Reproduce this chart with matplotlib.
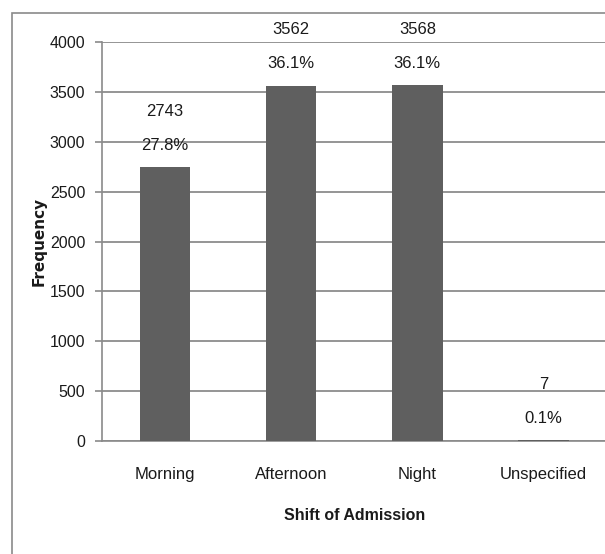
import matplotlib
matplotlib.use('Agg')
import matplotlib.pyplot as plt
from matplotlib.patches import Rectangle

plt.rcParams['font.family'] = ['Liberation Sans', 'DejaVu Sans']

shifts = ['Morning', 'Afternoon', 'Night', 'Unspecified']
counts = [2743, 3562, 3568, 7]
percents = ['27.8%', '36.1%', '36.1%', '0.1%']
y_ticks = [0, 500, 1000, 1500, 2000, 2500, 3000, 3500, 4000]

W, H = 605, 554
fig = plt.figure(figsize=(W / 100, H / 100), dpi=100)

# outer chart frame, runs off the right and bottom edges
fig.patches.append(Rectangle((12 / W, -0.1), 1.2, 1.1 - 13 / H,
                             transform=fig.transFigure, fill=False,
                             edgecolor='#8a8a8a', linewidth=1.2))

ax = fig.add_axes([102 / W, 113 / H, 504.5 / W, 399 / H])
ax.set_facecolor('none')
x = range(len(shifts))
ax.bar(x, counts, width=0.4, color='#5f5f5f', zorder=3)

ax.set_xlim(-0.5, 3.5)
ax.set_ylim(0, 4000)
ax.set_yticks(y_ticks)
ax.set_yticklabels([str(v) for v in y_ticks])
ax.set_xticks(list(x))
ax.set_xticklabels(shifts)
ax.tick_params(axis='y', length=5, width=1.2, color='#8a8a8a', pad=7,
               labelsize=11.5, labelcolor='#1a1a1a')
ax.tick_params(axis='x', length=0, pad=19, labelsize=12, labelcolor='#1a1a1a')

ax.grid(axis='y', color='#8c8c8c', linewidth=1.3, zorder=0)
for side in ['top', 'right']:
    ax.spines[side].set_visible(False)
for side in ['left', 'bottom']:
    ax.spines[side].set_color('#8a8a8a')
    ax.spines[side].set_linewidth(1.2)

# count and share above each bar
for i, (c, p) in enumerate(zip(counts, percents)):
    ax.annotate(p, (i, c), xytext=(0, 22), textcoords='offset pixels',
                ha='center', va='center', fontsize=12, color='#1a1a1a')
    ax.annotate(str(c), (i, c), xytext=(0, 56), textcoords='offset pixels',
                ha='center', va='center', fontsize=12, color='#1a1a1a')

ax.set_xlabel('Shift of Admission', fontsize=11.5, fontweight='bold', color='#1a1a1a')
ax.xaxis.set_label_coords(0.5, -0.168)
fig.text(39 / W, 1 - 241 / H, 'Frequency', rotation=90, ha='center', va='center',
         fontsize=11, fontweight='bold', family='DejaVu Sans', color='#1a1a1a')

fig.savefig('out.png', dpi=100)
